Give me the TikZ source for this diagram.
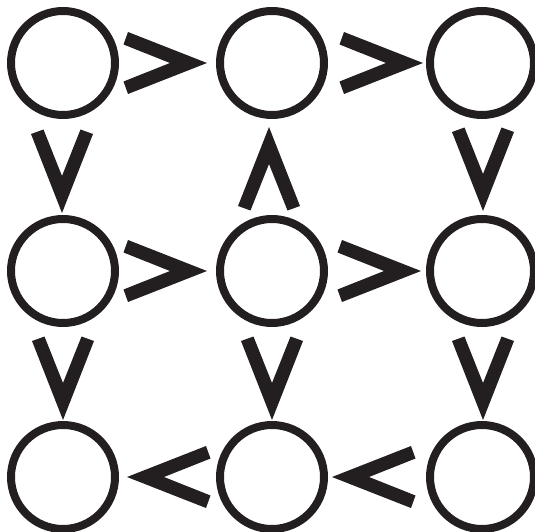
\documentclass[tikz,border=0pt]{standalone}
\definecolor{ink}{HTML}{231F20}
\begin{document}
\begin{tikzpicture}[x=1pt,y=-1pt,
  ring/.style={draw=ink,circle,line width=8pt,minimum size=104pt,inner sep=0pt},
  chev/.pic={\fill[ink] (0,0) -- (-79,-31) -- (-83.5,-18.5) -- (-37,0) -- (-83.5,18.5) -- (-79,31) -- cycle;}]
\useasboundingbox (0,0) rectangle (535,532);
% circles
\node[ring] (a1) at (63,63) {};
\node[ring] (a2) at (272,63) {};
\node[ring] (a3) at (482,63) {};
\node[ring] (b1) at (63,271) {};
\node[ring] (b2) at (272,271) {};
\node[ring] (b3) at (482,271) {};
\node[ring] (c1) at (63,477) {};
\node[ring] (c2) at (272,477) {};
\node[ring] (c3) at (482,477) {};
% horizontal chevrons
\pic at (207,63) {chev};
\pic at (423,63) {chev};
\pic at (207,271) {chev};
\pic at (421,271) {chev};
\pic[rotate=180] at (127,477) {chev};
\pic[rotate=180] at (332,477) {chev};
% vertical chevrons
\pic[rotate=-90] at (62,213) {chev};
\pic[rotate=90] at (269,127) {chev};
\pic[rotate=-90] at (483,211) {chev};
\pic[rotate=-90] at (63,420) {chev};
\pic[rotate=-90] at (272,420) {chev};
\pic[rotate=-90] at (483,420) {chev};
\end{tikzpicture}
\end{document}
